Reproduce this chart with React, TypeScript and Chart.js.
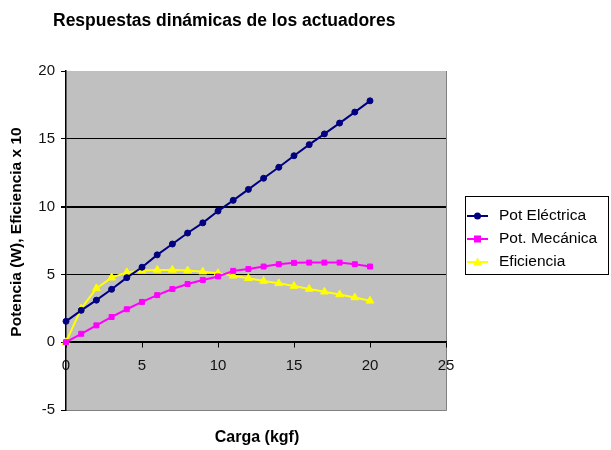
import React, { useEffect, useRef } from 'react';
import { Chart, registerables } from 'chart.js';

Chart.register(...registerables);

const cargas = [0, 1, 2, 3, 4, 5, 6, 7, 8, 9, 10, 11, 12, 13, 14, 15, 16, 17, 18, 19, 20];
const potElectrica = [1.54, 2.35, 3.1, 3.9, 4.76, 5.53, 6.44, 7.24, 8.05, 8.8, 9.67, 10.46, 11.27, 12.09, 12.9, 13.75, 14.57, 15.36, 16.16, 16.97, 17.8];
const potMecanica = [0, 0.62, 1.24, 1.86, 2.43, 2.97, 3.47, 3.92, 4.29, 4.59, 4.85, 5.26, 5.4, 5.58, 5.75, 5.85, 5.87, 5.87, 5.87, 5.75, 5.58];
const eficiencia = [0, 2.48, 3.97, 4.76, 5.15, 5.28, 5.33, 5.33, 5.28, 5.2, 5.08, 4.9, 4.71, 4.51, 4.34, 4.14, 3.92, 3.72, 3.52, 3.3, 3.05];

const seriesNames = ['Pot Eléctrica', 'Pot. Mecánica', 'Eficiencia'];
const chartTitle = 'Respuestas dinámicas de los actuadores';
const xTitle = 'Carga (kgf)';
const yTitle = 'Potencia (W), Eficiencia x 10';

const FONT = '"Liberation Sans", Arial, sans-serif';

const toPts = (ys: number[]) => cargas.map((x, i) => ({ x, y: ys[i] }));

function drawMarker(ctx: CanvasRenderingContext2D, style: string, x: number, y: number, color: string) {
  ctx.save();
  ctx.fillStyle = color;
  ctx.strokeStyle = color;
  ctx.beginPath();
  if (style === 'circle') {
    ctx.arc(x, y, 3.5, 0, Math.PI * 2);
  } else if (style === 'rect') {
    ctx.rect(x - 3.5, y - 3.5, 7, 7);
  } else {
    ctx.moveTo(x, y - 4.5);
    ctx.lineTo(x + 4.5, y + 3.5);
    ctx.lineTo(x - 4.5, y + 3.5);
    ctx.closePath();
  }
  ctx.fill();
  ctx.restore();
}

const decorPlugin = {
  id: 'decor',
  beforeDraw(chart: any) {
    const { ctx, chartArea: a } = chart;
    ctx.save();
    ctx.fillStyle = '#C0C0C0';
    ctx.fillRect(a.left, a.top, a.right - a.left, a.bottom - a.top);
    ctx.strokeStyle = '#808080';
    ctx.lineWidth = 1;
    ctx.beginPath();
    ctx.moveTo(a.right + 0.5, a.top);
    ctx.lineTo(a.right + 0.5, a.bottom + 0.5);
    ctx.lineTo(a.left, a.bottom + 0.5);
    ctx.stroke();
    ctx.restore();
  },
  afterDraw(chart: any) {
    const { ctx, chartArea: a } = chart;
    ctx.save();
    ctx.fillStyle = '#000';
    ctx.font = `bold 17.5px ${FONT}`;
    ctx.textAlign = 'left';
    ctx.textBaseline = 'alphabetic';
    ctx.fillText(chartTitle, 53, 26);

    ctx.font = `bold 16px ${FONT}`;
    ctx.textAlign = 'center';
    ctx.textBaseline = 'middle';
    ctx.fillText(xTitle, (a.left + a.right) / 2 + 1, 438);

    ctx.save();
    ctx.font = `bold 15.5px ${FONT}`;
    ctx.translate(17, 232);
    ctx.rotate(-Math.PI / 2);
    ctx.fillText(yTitle, 0, 0);
    ctx.restore();

    // legend
    const bx = 465, by = 196, bw = 143, bh = 78;
    ctx.fillStyle = '#fff';
    ctx.fillRect(bx, by, bw, bh);
    ctx.strokeStyle = '#000';
    ctx.lineWidth = 1;
    ctx.strokeRect(bx + 0.5, by + 0.5, bw, bh);
    ctx.font = `15.5px ${FONT}`;
    ctx.textAlign = 'left';
    ctx.textBaseline = 'middle';
    const rows = [216, 239, 262];
    chart.data.datasets.forEach((ds: any, i: number) => {
      const y = rows[i];
      ctx.strokeStyle = ds.borderColor;
      ctx.lineWidth = 2;
      ctx.beginPath();
      ctx.moveTo(467, y);
      ctx.lineTo(488, y);
      ctx.stroke();
      drawMarker(ctx, ds.pointStyle, 477.5, y, ds.borderColor);
      ctx.fillStyle = '#000';
      ctx.fillText(ds.label, 499, y);
    });
    ctx.restore();
  },
};

export default function App() {
  const ref = useRef<HTMLCanvasElement>(null);
  useEffect(() => {
    if (!ref.current) return;
    const mk = (label: string, ys: number[], color: string, pointStyle: string, r: number) => ({
      label,
      data: toPts(ys),
      borderColor: color,
      backgroundColor: color,
      pointBackgroundColor: color,
      pointBorderColor: color,
      pointStyle,
      pointRadius: r,
      pointBorderWidth: 1,
      borderWidth: 2,
      tension: 0,
      clip: false,
    });
    const chart = new Chart(ref.current, {
      type: 'line',
      data: {
        datasets: [
          mk(seriesNames[0], potElectrica, '#000080', 'circle', 3),
          mk(seriesNames[1], potMecanica, '#FF00FF', 'rect', 3.5),
          mk(seriesNames[2], eficiencia, '#FFFF00', 'triangle', 4.5),
        ] as any,
      },
      options: {
        animation: false,
        responsive: false,
        devicePixelRatio: 1,
        layout: { padding: { top: 71, bottom: 40, right: 165, left: 0 } },
        plugins: { legend: { display: false }, tooltip: { enabled: false }, title: { display: false } },
        scales: {
          x: {
            type: 'linear',
            position: { y: 0 } as any,
            min: 0,
            max: 25,
            afterFit: (s: any) => { s.height = 0; },
            ticks: { stepSize: 5, color: '#111', font: { family: FONT, size: 15 }, padding: 10 },
            grid: { drawOnChartArea: false, tickLength: 5, tickColor: '#000', color: '#000' },
            border: { display: true, color: '#000', width: 1.5 },
          },
          y: {
            type: 'linear',
            min: -5,
            max: 20,
            afterFit: (s: any) => { s.width = 66; },
            ticks: { stepSize: 5, color: '#111', font: { family: FONT, size: 15 }, padding: 6 },
            grid: {
              color: (c: any) => (c.tick && c.tick.value === 20 ? 'rgba(0,0,0,0)' : c.tick && c.tick.value === -5 ? '#808080' : '#000'),
              lineWidth: (c: any) => (c.tick && c.tick.value === 10 ? 2 : 1),
              tickLength: 5,
              tickColor: '#000',
            },
            border: { display: true, color: '#000', width: 1.5 },
          },
        },
      },
      plugins: [decorPlugin],
    });
    return () => chart.destroy();
  }, []);
  return (
    <div style={{ position: 'fixed', left: 0, top: 0, width: 611, height: 450, background: '#fff' }}>
      <canvas ref={ref} width={611} height={450} style={{ display: 'block' }} />
    </div>
  );
}
